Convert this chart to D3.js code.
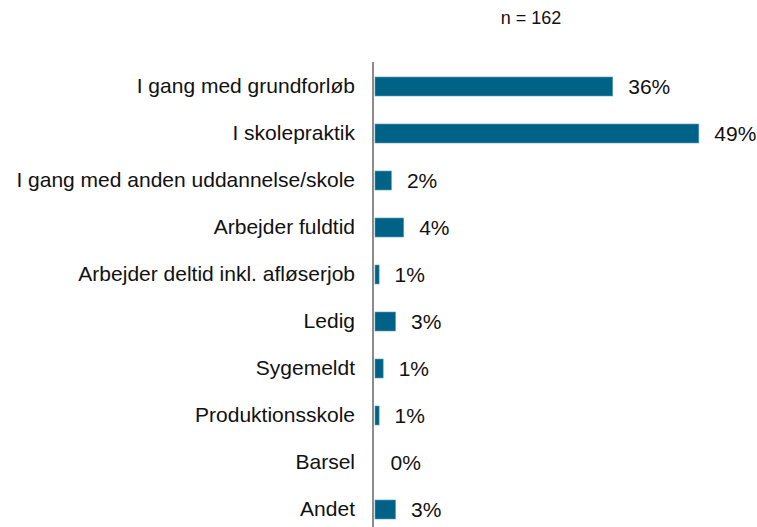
<!DOCTYPE html>
<html>
<head>
<meta charset="utf-8">
<script src="https://cdn.jsdelivr.net/npm/d3@7"></script>
<style>
  body { margin: 0; background: #fff; }
  svg text { font-family: "Liberation Sans", Arial, sans-serif; fill: #111; }
</style>
</head>
<body>
<svg id="chart" width="757" height="527"></svg>
<script>
// --- data ---
const categories = [
  'I gang med grundforløb',
  'I skolepraktik',
  'I gang med anden uddannelse/skole',
  'Arbejder fuldtid',
  'Arbejder deltid inkl. afløserjob',
  'Ledig',
  'Sygemeldt',
  'Produktionsskole',
  'Barsel',
  'Andet'
];
const shares = [35.8, 48.77, 2.47, 4.32, 0.62, 3.09, 1.23, 0.62, 0, 3.09]; // percent
const sampleSize = 162;

const svg = d3.select('#chart');

const x = d3.scaleLinear().domain([0, 50]).range([375, 707]);
const y = d3.scaleBand()
  .domain(categories)
  .range([63, 533])
  .paddingInner(0.596)
  .paddingOuter(0.298);

// n label
svg.append('text')
  .attr('x', 531).attr('y', 23.5)
  .attr('text-anchor', 'middle')
  .style('font-size', '18px')
  .text('n = ' + sampleSize);

// bars
svg.selectAll('rect.bar')
  .data(shares)
  .join('rect')
  .attr('class', 'bar')
  .attr('x', x(0))
  .attr('y', (d, i) => y(categories[i]))
  .attr('width', d => x(d) - x(0))
  .attr('height', y.bandwidth())
  .attr('fill', '#006286')
  .attr('stroke', '#5a9cb6')
  .attr('stroke-width', d => d > 0 ? 0.6 : 0);

// vertical axis line
svg.append('line')
  .attr('x1', 373).attr('x2', 373)
  .attr('y1', 62).attr('y2', 533)
  .attr('stroke', '#8c8c8c')
  .attr('stroke-width', 2);

// category labels
svg.selectAll('text.cat')
  .data(categories)
  .join('text')
  .attr('class', 'cat')
  .attr('x', 355)
  .attr('y', d => y(d) + y.bandwidth() / 2)
  .attr('dy', '0.33em')
  .attr('text-anchor', 'end')
  .style('font-size', '21px')
  .text(d => d);

// value labels
svg.selectAll('text.val')
  .data(shares)
  .join('text')
  .attr('class', 'val')
  .attr('x', d => x(d) + 15.5)
  .attr('y', (d, i) => y(categories[i]) + y.bandwidth() / 2)
  .attr('dy', '0.36em')
  .style('font-size', '21px')
  .text(d => Math.round(d) + '%');
</script>
</body>
</html>
